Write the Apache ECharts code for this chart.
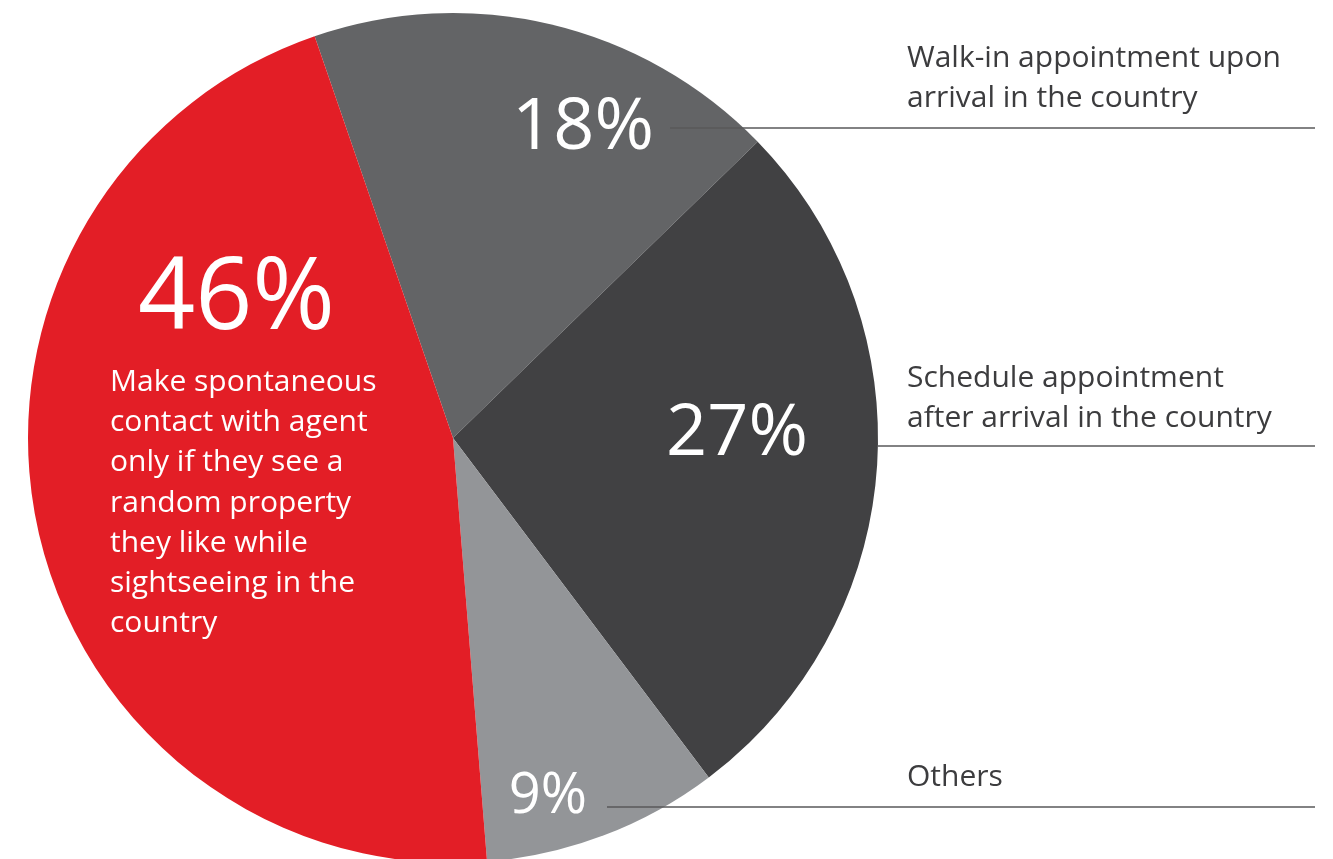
<!DOCTYPE html>
<html>
<head>
<meta charset="utf-8">
<script src="https://cdn.jsdelivr.net/npm/echarts@6/dist/echarts.min.js"></script>
<style>
  html, body { margin: 0; padding: 0; background: #ffffff; }
  #chart { width: 1333px; height: 859px; }
</style>
</head>
<body>
<div id="chart"></div>
<script>
// How buyers first get in touch with an agent (share of respondents, %)
const categories = [
  'Walk-in appointment upon arrival in the country',
  'Schedule appointment after arrival in the country',
  'Others',
  'Make spontaneous contact with agent only if they see a random property they like while sightseeing in the country'
];
const shares = [18, 27, 9, 46];
const sliceColors = ['#636466', '#414143', '#939598', '#e31e26'];

// Caption text, already broken into lines
const captionLines = [
  ['Walk-in appointment upon', 'arrival in the country'],
  ['Schedule appointment', 'after arrival in the country'],
  ['Others'],
  ['Make spontaneous', 'contact with agent', 'only if they see a', 'random property',
   'they like while', 'sightseeing in the', 'country']
];

// Where each slice's percentage label sits
const pctLabelPos = [
  { x: 583, y: 128, align: 'center', verticalAlign: 'middle' },
  { x: 737, y: 434, align: 'center', verticalAlign: 'middle' },
  { x: 548, y: 797, align: 'center', verticalAlign: 'middle' },
  { x: 110, y: 240, align: 'left', verticalAlign: 'top' }
];
const pctStyle = ['pctM', 'pctM', 'pctS', 'big'];

// Side captions (first three slices) with their leader lines
const sideCaptionTop = [38, 358, 757];
const leaderLines = [
  [670, 128, 1315],
  [878, 446, 1315],
  [607, 807, 1315]
];

const FONT = '"Open Sans", "Noto Sans", sans-serif';

const chart = echarts.init(document.getElementById('chart'), null, { renderer: 'canvas' });

const graphic = [];
captionLines.slice(0, 3).forEach((lines, i) => {
  graphic.push({
    type: 'text',
    left: 907,
    top: sideCaptionTop[i],
    z: 10,
    style: {
      text: lines.join('\n'),
      font: '30px ' + FONT,
      lineHeight: 40.5,
      fill: '#3c3c3e'
    }
  });
});
leaderLines.forEach(([x1, y, x2]) => {
  graphic.push({
    type: 'line',
    z: 10,
    shape: { x1: x1, y1: y, x2: x2, y2: y },
    style: { stroke: '#58585a', lineWidth: 1.6 }
  });
});

chart.setOption({
  animation: false,
  backgroundColor: '#ffffff',
  graphic: graphic,
  series: [{
    type: 'pie',
    center: [453, 438],
    radius: [0, 425],
    startAngle: 109,
    clockwise: true,
    avoidLabelOverlap: false,
    silent: true,
    itemStyle: { borderWidth: 0 },
    data: shares.map((v, i) => ({
      name: categories[i],
      value: v,
      itemStyle: { color: sliceColors[i] }
    })),
    label: {
      show: true,
      position: 'inside',
      color: '#ffffff',
      fontFamily: FONT,
      formatter: p => {
        const head = '{' + pctStyle[p.dataIndex] + '|' + p.value + '%}';
        if (p.dataIndex !== 3) return head;
        return head + '\n' + captionLines[3].map(l => '{desc|' + l + '}').join('\n');
      },
      rich: {
        pctM: { fontSize: 72, fontFamily: FONT, color: '#fff', lineHeight: 80 },
        pctS: { fontSize: 56, fontFamily: FONT, color: '#fff', lineHeight: 64 },
        big: { fontSize: 100, fontFamily: FONT, color: '#fff', lineHeight: 122, padding: [0, 0, 0, 28] },
        desc: { fontSize: 30, fontFamily: FONT, color: '#fff', lineHeight: 40.3 }
      }
    },
    labelLine: { show: false },
    labelLayout: params => Object.assign({}, pctLabelPos[params.dataIndex])
  }]
});
</script>
</body>
</html>
